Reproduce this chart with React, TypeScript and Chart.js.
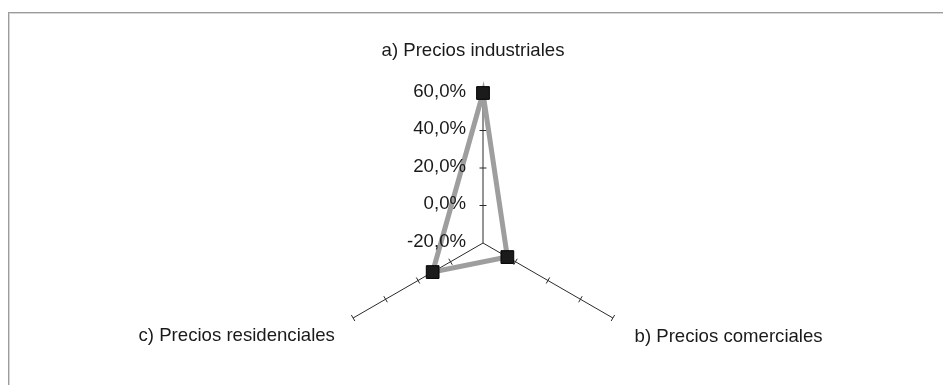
import { useEffect, useRef } from "react";
import { Chart, registerables } from "chart.js";

Chart.register(...registerables);

// Price variation by sector (%)
const categories = ["a) Precios industriales", "b) Precios comerciales", "c) Precios residenciales"];
const priceChange = [60, -5, 11];
const axisTicks = [-20, 0, 20, 40, 60];

const FONT = '"Liberation Sans", Arial, sans-serif';
const TEXT = "#1a1a1a";
const fmt = (v: number) => v.toFixed(1).replace(".", ",") + "%";

// per-axis title placement: extra distance beyond the outer radius, nudges and alignment
const titleLayout = [
  { gap: 37, dx: -10, dy: 0, align: "center" as CanvasTextAlign },
  { gap: 25, dx: 0, dy: 11, align: "left" as CanvasTextAlign },
  { gap: 21, dx: 0, dy: 12, align: "right" as CanvasTextAlign },
];

const axisMarks = {
  id: "axisMarks",
  beforeDatasetsDraw(chart: any) {
    const scale = chart.scales.r;
    const ctx = chart.ctx as CanvasRenderingContext2D;
    const n = chart.data.labels.length;
    ctx.save();
    ctx.strokeStyle = "#2b2b2b";
    ctx.lineWidth = 1;
    scale.ticks.forEach((t: any) => {
      if (t.value === scale.min) return;
      const d = scale.getDistanceFromCenterForValue(t.value);
      for (let i = 0; i < n; i++) {
        const p = scale.getPointPosition(i, d);
        const a = scale.getIndexAngle(i) - Math.PI / 2;
        const px = -Math.sin(a) * 3.5;
        const py = Math.cos(a) * 3.5;
        ctx.beginPath();
        ctx.moveTo(p.x - px, p.y - py);
        ctx.lineTo(p.x + px, p.y + py);
        ctx.stroke();
      }
    });
    ctx.restore();
  },
  afterDatasetsDraw(chart: any) {
    const scale = chart.scales.r;
    const ctx = chart.ctx as CanvasRenderingContext2D;
    ctx.save();
    ctx.fillStyle = TEXT;
    ctx.font = `18.6px ${FONT}`;
    // value labels to the left of the vertical axis
    ctx.textAlign = "right";
    ctx.textBaseline = "middle";
    scale.ticks.forEach((t: any) => {
      const d = scale.getDistanceFromCenterForValue(t.value);
      const p = scale.getPointPosition(0, d);
      ctx.fillText(fmt(t.value), p.x - 17, p.y - 1.5);
    });
    // axis titles
    ctx.textBaseline = "alphabetic";
    chart.data.labels.forEach((label: string, i: number) => {
      const L = titleLayout[i];
      const p = scale.getPointPosition(i, scale.drawingArea + L.gap);
      ctx.textAlign = L.align;
      ctx.fillText(label, p.x + L.dx, p.y + L.dy);
    });
    ctx.restore();
  },
};

export default function App() {
  const canvasRef = useRef<HTMLCanvasElement | null>(null);

  useEffect(() => {
    const canvas = canvasRef.current;
    if (!canvas) return;
    const chart = new Chart(canvas, {
      type: "radar",
      data: {
        labels: categories,
        datasets: [
          {
            data: priceChange,
            borderColor: "#9e9e9e",
            borderWidth: 5,
            fill: false,
            pointStyle: "rect",
            pointRadius: 9,
            pointHoverRadius: 9,
            pointBackgroundColor: "#1b1b1b",
            pointBorderColor: "#000000",
            pointBorderWidth: 1,
          },
        ],
      },
      options: {
        responsive: false,
        animation: false,
        devicePixelRatio: 1,
        layout: { padding: { left: 333, right: 310, top: 93, bottom: 7 } },
        plugins: { legend: { display: false }, tooltip: { enabled: false } },
        scales: {
          r: {
            min: axisTicks[0],
            max: axisTicks[axisTicks.length - 1],
            ticks: { stepSize: axisTicks[1] - axisTicks[0], display: false },
            grid: { display: false },
            angleLines: { display: true, color: "#2b2b2b", lineWidth: 1 },
            pointLabels: { display: false },
          },
        },
      },
      plugins: [axisMarks],
    });
    return () => chart.destroy();
  }, []);

  return (
    <div
      style={{
        position: "absolute",
        left: 0,
        top: 0,
        width: 943,
        height: 385,
        overflow: "hidden",
        background: "#ffffff",
      }}
    >
      <canvas ref={canvasRef} width={943} height={400} style={{ position: "absolute", left: 0, top: 0 }} />
      <div
        style={{
          position: "absolute",
          left: 8,
          top: 12,
          width: 1000,
          height: 1000,
          borderTop: "1px solid #9c9c9c",
          borderLeft: "1px solid #9c9c9c",
          boxShadow: "inset 1px 1px 0 #d6d6d6",
          pointerEvents: "none",
        }}
      />
    </div>
  );
}
